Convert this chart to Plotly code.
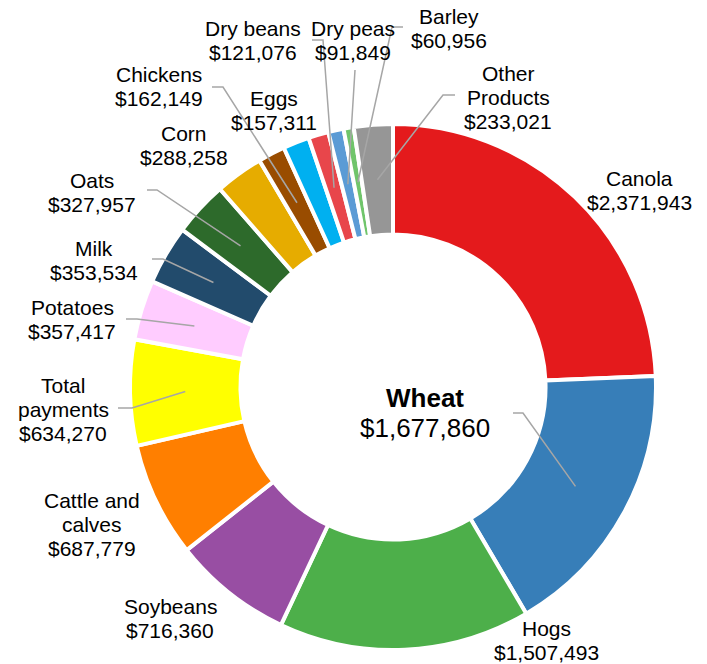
import numpy as np
import plotly.graph_objects as go

# ---------------- data ----------------
categories = ["Canola", "Wheat", "Hogs", "Soybeans", "Cattle and calves",
              "Total payments", "Potatoes", "Milk", "Oats", "Corn", "Chickens",
              "Eggs", "Dry beans", "Dry peas", "Barley", "Other Products"]
values = [2371943, 1677860, 1507493, 716360, 687779, 634270, 357417, 353534,
          327957, 288258, 162149, 157311, 121076, 91849, 60956, 233021]
name_lines = [["Canola"], ["Wheat"], ["Hogs"], ["Soybeans"], ["Cattle and", "calves"],
              ["Total", "payments"], ["Potatoes"], ["Milk"], ["Oats"], ["Corn"],
              ["Chickens"], ["Eggs"], ["Dry beans"], ["Dry peas"], ["Barley"],
              ["Other", "Products"]]

# ---------------- style / layout ----------------
colors = ["#E41A1C", "#377EB8", "#4DAF4A", "#984EA3", "#FF7F00", "#FFFF00",
          "#FFCCFF", "#224B6C", "#2D6A2B", "#E6AC00", "#994C00", "#00B0F0",
          "#E8464B", "#5B9BD5", "#70C56B", "#969696"]
W, H = 707, 664
CX, CY = 393, 387
R_OUT = 263
HOLE = 0.58
FONT = "Liberation Sans, Arial, sans-serif"
LINE_COLOR = "#A6A6A6"

# label placement in pixels (center x, first line center y)
label_pos = {
    "Canola": (639, 178), "Wheat": (425, 398), "Hogs": (546, 628),
    "Soybeans": (170, 606), "Cattle and calves": (92, 500),
    "Total payments": (63, 385), "Potatoes": (72, 307), "Milk": (94, 248),
    "Oats": (92, 180), "Corn": (184, 133), "Chickens": (159, 75),
    "Eggs": (274, 99), "Dry beans": (253, 29), "Dry peas": (353, 29),
    "Barley": (449, 17), "Other Products": (508, 73),
}
# leader lines: label-side start point and elbow point (pixels)
leaders = {
    "Wheat": ((513, 413), (523, 413)),
    "Oats": ((147, 190), (157, 190)),
    "Milk": ((152, 259), (163, 259)),
    "Potatoes": ((126, 319), (137, 319)),
    "Total payments": ((118, 408), (132, 408)),
    "Chickens": ((212, 87), (223, 87)),
    "Dry beans": ((312, 40), (323, 40)),
    "Dry peas": ((355, 70), (355, 70)),
    "Barley": ((403, 27), (392, 27)),
    "Other Products": ((455, 95), (443, 95)),
}


def px(x):
    return x / W


def py(y):
    return 1 - y / H


fig = go.Figure(go.Pie(
    labels=categories, values=values, sort=False, direction="clockwise",
    rotation=0, hole=HOLE, textinfo="none", hoverinfo="label+value",
    marker=dict(colors=colors, line=dict(color="white", width=4)),
    domain=dict(x=[px(CX - R_OUT), px(CX + R_OUT)],
                y=[py(CY + R_OUT), py(CY - R_OUT)]),
    showlegend=False,
))

annotations = []
total = float(sum(values))
cum = np.cumsum([0] + values[:-1]) / total
mids = (cum + np.array(values) / total / 2) * 2 * np.pi
r_mid = R_OUT * (1 + HOLE) / 2

shapes = []
for i, cat in enumerate(categories):
    lx, ly = label_pos[cat]
    big = cat == "Wheat"
    step = 30 if big else 24
    size = 26 if big else 21
    lines = name_lines[i] + ["$" + f"{values[i]:,}"]
    for k, t in enumerate(lines):
        txt = t
        if big and k == 0:
            txt = "<b>" + t + "</b>"
        annotations.append(dict(
            x=px(lx), y=py(ly + k * step), xref="paper", yref="paper",
            text=txt, showarrow=False, xanchor="center", yanchor="middle",
            font=dict(family=FONT, size=size, color="#000000")))
    if cat in leaders:
        (sx, sy), (ex, ey) = leaders[cat]
        tx = CX + r_mid * np.sin(mids[i])
        ty = CY - r_mid * np.cos(mids[i])
        path = f"M {px(sx)} {py(sy)} L {px(ex)} {py(ey)} L {px(tx)} {py(ty)}"
        shapes.append(dict(type="path", path=path, xref="paper", yref="paper",
                           line=dict(color=LINE_COLOR, width=1.5)))

fig.update_layout(
    width=W, height=H, margin=dict(l=0, r=0, t=0, b=0),
    paper_bgcolor="white", plot_bgcolor="white",
    annotations=annotations, shapes=shapes,
)

fig.write_html("out.html",
               config={"displayModeBar": False},
               post_script="document.body.style.margin='0';"
                           "document.body.style.overflow='hidden';")
